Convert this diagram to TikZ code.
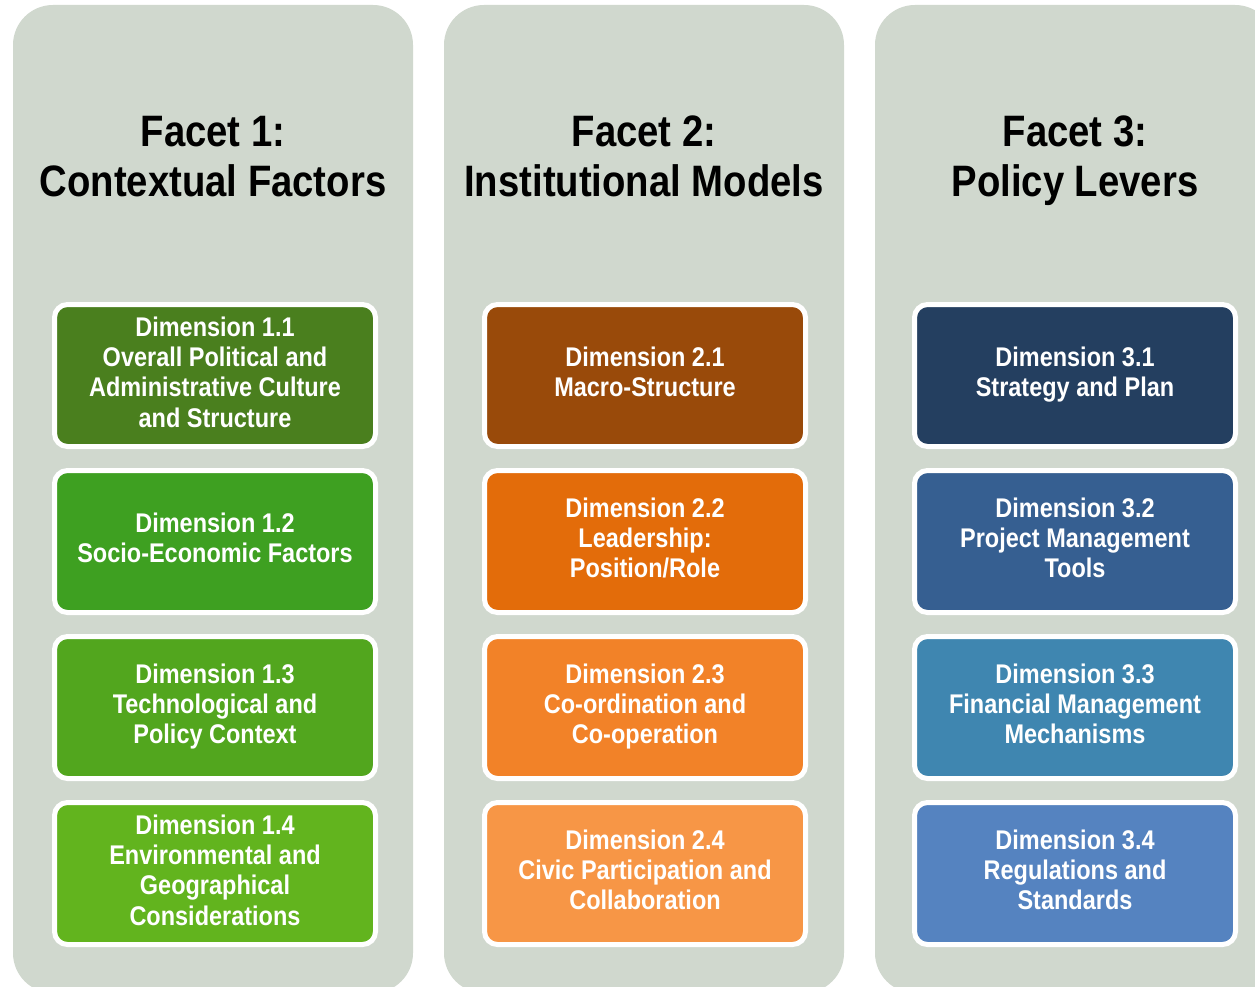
\documentclass[tikz,border=0pt]{standalone}
\usepackage{fontspec}
\setmainfont[FakeStretch=0.87]{Liberation Sans}
\definecolor{panelgray}{HTML}{D0D8CE}
\definecolor{gA}{HTML}{4A7F1E}
\definecolor{gB}{HTML}{3EA021}
\definecolor{gC}{HTML}{52A61E}
\definecolor{gD}{HTML}{62B41E}
\definecolor{oA}{HTML}{994A0A}
\definecolor{oB}{HTML}{E36C0A}
\definecolor{oC}{HTML}{F28228}
\definecolor{oD}{HTML}{F79646}
\definecolor{bA}{HTML}{243F60}
\definecolor{bB}{HTML}{365F91}
\definecolor{bC}{HTML}{3F86B0}
\definecolor{bD}{HTML}{5583C0}
\newcommand{\ts}{\strut}
\tikzset{
  panel/.style={fill=panelgray, draw=none, rounded corners=40pt},
  facettitle/.style={font=\fontsize{44}{50}\selectfont\bfseries, align=center, text=black, inner sep=0pt},
  dimbox/.style={draw=white, line width=5pt, rounded corners=13pt, minimum width=321pt, minimum height=142pt, inner sep=0pt, align=center, text=white, font=\fontsize{27}{30.3}\selectfont\bfseries}
}
\begin{document}
\begin{tikzpicture}[x=1pt,y=-1pt]
\useasboundingbox (0,0) rectangle (1255,987);
\fill[white] (0,0) rectangle (1255,987);
\begin{scope}
\clip (0,0) rectangle (1255,987);
\path[panel] (13,5) rectangle (413,993);
\path[panel] (444,5) rectangle (844,993);
\path[panel] (875,5) rectangle (1275,993);
\end{scope}
% titles
\node[facettitle] (f1) at (213,162) {\ts Facet 1:\\\ts Contextual Factors};
\node[facettitle] (f2) at (644,162) {\ts Facet 2:\\\ts Institutional Models};
\node[facettitle] (f3) at (1075,162) {\ts Facet 3:\\\ts Policy Levers};
% column 1
\node[dimbox, fill=gA] (d11) at (215,375.5) {\ts Dimension 1.1\\\ts Overall Political and\\\ts Administrative Culture\\\ts and Structure};
\node[dimbox, fill=gB] (d12) at (215,541.5) {\ts Dimension 1.2\\\ts Socio-Economic Factors};
\node[dimbox, fill=gC] (d13) at (215,707.5) {\ts Dimension 1.3\\\ts Technological and\\\ts Policy Context};
\node[dimbox, fill=gD] (d14) at (215,873.5) {\ts Dimension 1.4\\\ts Environmental and\\\ts Geographical\\\ts Considerations};
% column 2
\node[dimbox, fill=oA] (d21) at (645,375.5) {\ts Dimension 2.1\\\ts Macro-Structure};
\node[dimbox, fill=oB] (d22) at (645,541.5) {\ts Dimension 2.2\\\ts Leadership:\\\ts Position/Role};
\node[dimbox, fill=oC] (d23) at (645,707.5) {\ts Dimension 2.3\\\ts Co-ordination and\\\ts Co-operation};
\node[dimbox, fill=oD] (d24) at (645,873.5) {\ts Dimension 2.4\\\ts Civic Participation and\\\ts Collaboration};
% column 3
\node[dimbox, fill=bA] (d31) at (1075,375.5) {\ts Dimension 3.1\\\ts Strategy and Plan};
\node[dimbox, fill=bB] (d32) at (1075,541.5) {\ts Dimension 3.2\\\ts Project Management\\\ts Tools};
\node[dimbox, fill=bC] (d33) at (1075,707.5) {\ts Dimension 3.3\\\ts Financial Management\\\ts Mechanisms};
\node[dimbox, fill=bD] (d34) at (1075,873.5) {\ts Dimension 3.4\\\ts Regulations and\\\ts Standards};
\end{tikzpicture}
\end{document}
